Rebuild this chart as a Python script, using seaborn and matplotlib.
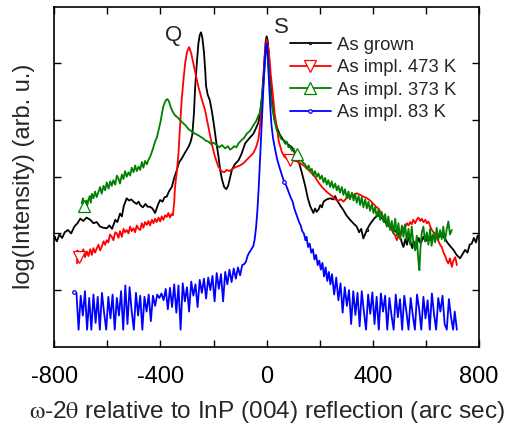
import numpy as np
import pandas as pd
import matplotlib
matplotlib.use("Agg")
import matplotlib.pyplot as plt
import seaborn as sns

# Data (x in arc sec, y in log units)
grown = [(-800, 1.94), (-790, 1.86), (-780, 1.98), (-770, 1.92), (-760, 2.02), (-748, 2.06), (-736, 2.00),
         (-724, 2.12), (-712, 2.18), (-702, 2.26), (-690, 2.22), (-678, 2.28), (-664, 2.24), (-652, 2.18),
         (-640, 2.20), (-627, 2.12), (-615, 2.10), (-602, 2.09), (-592, 2.14), (-582, 2.08), (-570, 2.24),
         (-562, 2.20), (-552, 2.35), (-545, 2.30), (-538, 2.48), (-527, 2.62), (-518, 2.58), (-510, 2.60),
         (-501, 2.56), (-490, 2.52), (-482, 2.56), (-476, 2.50), (-466, 2.46), (-456, 2.52), (-448, 2.47),
         (-439, 2.47), (-430, 2.44), (-420, 2.36), (-414, 2.44), (-408, 2.52), (-401, 2.59), (-392, 2.56),
         (-384, 2.64), (-376, 2.65), (-368, 2.74), (-357, 2.82), (-348, 2.98), (-338, 3.12), (-330, 3.25),
         (-320, 3.32), (-308, 3.42), (-294, 3.53), (-286, 3.62), (-280, 3.74), (-274, 4.10), (-269, 4.59),
         (-263, 5.00), (-257, 5.35), (-252, 5.50), (-247, 5.55), (-242, 5.45), (-236, 5.20), (-231, 4.85),
         (-228, 4.60), (-222, 4.45), (-214, 4.35), (-206, 4.15), (-198, 3.90), (-190, 3.62), (-182, 3.38),
         (-175, 3.12), (-168, 2.95), (-160, 2.82), (-152, 2.78), (-145, 2.84), (-138, 2.98), (-131, 3.12),
         (-120, 3.22), (-106, 3.29), (-95, 3.40), (-81, 3.59), (-65, 3.68), (-50, 3.76), (-40, 3.86),
         (-31, 3.96), (-24, 4.15), (-18, 4.40), (-12, 4.80), (-8, 5.10), (-4, 5.38), (0, 5.48), (4, 5.40),
         (8, 5.18), (13, 4.80), (19, 4.38), (28, 4.05), (38, 3.88), (50, 3.74), (63, 3.65), (78, 3.58),
         (95, 3.52), (108, 3.40), (120, 3.28), (132, 3.08), (145, 2.84), (155, 2.62), (164, 2.48),
         (170, 2.42), (176, 2.36), (182, 2.44), (188, 2.38), (195, 2.42), (202, 2.50), (208, 2.46),
         (214, 2.56), (226, 2.60), (239, 2.62), (250, 2.60), (258, 2.66), (264, 2.59), (276, 2.50),
         (289, 2.41), (300, 2.32), (314, 2.24), (326, 2.18), (339, 2.12), (348, 2.02), (356, 2.08),
         (364, 1.91), (370, 1.98), (377, 2.06), (386, 2.14), (396, 2.21), (408, 2.28), (421, 2.32),
         (430, 2.28), (440, 2.24), (452, 2.16), (462, 2.12), (471, 2.09), (484, 2.04), (496, 2.00),
         (505, 1.90), (510, 1.82), (515, 1.76), (522, 1.90), (528, 1.80), (534, 1.92), (540, 1.88),
         (548, 1.74), (554, 1.86), (560, 1.72), (565, 1.80), (572, 1.92), (580, 1.82), (590, 1.94),
         (598, 1.86), (606, 1.92), (615, 1.88), (625, 1.96), (632, 1.90), (640, 2.00), (650, 1.94),
         (660, 1.98), (671, 1.91), (680, 1.84), (690, 1.78), (703, 1.71), (715, 1.62), (728, 1.56),
         (738, 1.64), (747, 1.71), (756, 1.66), (764, 1.80), (772, 1.82), (780, 1.92), (788, 1.84),
         (794, 1.96), (800, 1.94)]

impl_473 = [(-714, 1.47), (-712, 1.70), (-708, 1.58), (-704, 1.66), (-700, 1.52), (-696, 1.62), (-690, 1.72),
            (-684, 1.58), (-677, 1.68), (-671, 1.60), (-664, 1.72), (-658, 1.62), (-652, 1.74), (-646, 1.66),
            (-639, 1.74), (-633, 1.80), (-627, 1.70), (-621, 1.76), (-614, 1.86), (-608, 1.80), (-602, 1.88),
            (-596, 1.84), (-590, 1.98), (-583, 1.94), (-577, 1.88), (-570, 2.02), (-564, 2.00), (-558, 1.92),
            (-552, 2.04), (-545, 1.94), (-539, 2.08), (-533, 2.02), (-527, 2.06), (-520, 2.00), (-514, 2.12),
            (-508, 2.04), (-501, 2.09), (-495, 2.02), (-489, 2.14), (-482, 2.08), (-476, 2.06), (-470, 2.18),
            (-464, 2.10), (-458, 2.20), (-451, 2.15), (-445, 2.22), (-439, 2.14), (-432, 2.24), (-426, 2.18),
            (-420, 2.26), (-414, 2.20), (-407, 2.28), (-401, 2.21), (-395, 2.30), (-389, 2.24), (-382, 2.32),
            (-376, 2.29), (-370, 2.36), (-364, 2.28), (-358, 2.34), (-353, 2.32), (-348, 2.55), (-345, 2.82),
            (-338, 3.10), (-332, 3.41), (-326, 3.90), (-320, 4.35), (-313, 4.72), (-307, 5.00), (-300, 5.20),
            (-292, 5.29), (-284, 5.18), (-276, 5.00), (-266, 4.78), (-257, 4.59), (-245, 4.38), (-232, 4.18),
            (-220, 3.90), (-207, 3.59), (-195, 3.36), (-182, 3.18), (-170, 3.10), (-160, 3.08), (-150, 3.12),
            (-140, 3.10), (-125, 3.15), (-112, 3.18), (-100, 3.20), (-87, 3.24), (-75, 3.30), (-62, 3.36),
            (-50, 3.42), (-40, 3.52), (-31, 3.66), (-24, 3.95), (-18, 4.28), (-12, 4.70), (-8, 5.06),
            (-4, 5.32), (0, 5.42), (5, 5.32), (10, 5.12), (16, 4.78), (23, 4.47), (30, 4.12), (38, 3.88),
            (46, 3.62), (57, 3.44), (66, 3.36), (76, 3.32), (89, 3.30), (101, 3.29), (114, 3.27), (126, 3.24),
            (139, 3.20), (151, 3.15), (166, 3.08), (182, 3.00), (195, 2.90), (208, 2.82), (220, 2.76),
            (232, 2.71), (246, 2.66), (258, 2.60), (270, 2.58), (280, 2.60), (289, 2.56), (300, 2.62),
            (314, 2.65), (327, 2.68), (339, 2.71), (352, 2.68), (364, 2.65), (378, 2.62), (390, 2.58),
            (402, 2.52), (414, 2.46), (421, 2.44), (433, 2.34), (446, 2.24), (458, 2.16), (471, 2.06),
            (478, 2.00), (484, 1.96), (490, 1.88), (496, 1.96), (502, 1.92), (509, 2.06), (515, 2.10),
            (522, 2.12), (528, 2.18), (534, 2.14), (540, 2.20), (546, 2.16), (552, 2.24), (559, 2.18),
            (565, 2.24), (571, 2.28), (578, 2.22), (584, 2.26), (590, 2.20), (597, 2.24), (603, 2.18),
            (609, 2.21), (616, 2.12), (622, 2.06), (628, 2.02), (634, 2.00), (640, 1.92), (647, 1.86),
            (653, 1.80), (659, 1.76), (666, 1.66), (672, 1.60), (678, 1.52), (684, 1.47), (690, 1.56),
            (697, 1.41), (703, 1.52), (710, 1.58), (716, 1.44)]

impl_373 = [(-696, 2.53), (-692, 2.62), (-688, 2.48), (-683, 2.41), (-679, 2.58), (-675, 2.50), (-671, 2.59),
            (-666, 2.66), (-662, 2.54), (-658, 2.70), (-652, 2.62), (-646, 2.74), (-640, 2.64), (-633, 2.74),
            (-627, 2.82), (-621, 2.70), (-614, 2.84), (-608, 2.76), (-602, 2.90), (-595, 2.79), (-589, 2.92),
            (-583, 2.84), (-577, 2.94), (-570, 2.86), (-564, 3.02), (-558, 2.97), (-552, 2.88), (-545, 3.04),
            (-539, 2.96), (-533, 3.10), (-527, 3.00), (-520, 3.08), (-514, 3.02), (-508, 3.16), (-501, 3.08),
            (-495, 3.20), (-489, 3.10), (-482, 3.18), (-476, 3.12), (-470, 3.26), (-464, 3.16), (-458, 3.28),
            (-451, 3.22), (-445, 3.30), (-439, 3.35), (-432, 3.44), (-426, 3.53), (-420, 3.62), (-413, 3.70),
            (-407, 3.82), (-400, 3.96), (-394, 4.12), (-389, 4.24), (-383, 4.32), (-378, 4.36), (-373, 4.37),
            (-367, 4.32), (-362, 4.24), (-357, 4.18), (-350, 4.12), (-344, 4.08), (-338, 4.06), (-330, 4.02),
            (-322, 3.98), (-313, 3.94), (-304, 3.90), (-294, 3.84), (-282, 3.80), (-270, 3.76), (-260, 3.74),
            (-250, 3.71), (-240, 3.68), (-230, 3.64), (-219, 3.62), (-210, 3.58), (-200, 3.60), (-188, 3.56),
            (-178, 3.52), (-168, 3.56), (-156, 3.50), (-146, 3.54), (-138, 3.48), (-131, 3.50), (-122, 3.54),
            (-114, 3.52), (-106, 3.59), (-96, 3.64), (-86, 3.68), (-75, 3.76), (-65, 3.80), (-56, 3.86),
            (-50, 3.91), (-40, 3.98), (-31, 4.08), (-25, 4.14), (-18, 4.38), (-12, 4.65), (-7, 4.98),
            (-3, 5.24), (0, 5.28), (4, 5.16), (7, 4.94), (12, 4.60), (19, 4.29), (28, 4.02), (38, 3.82),
            (48, 3.74), (56, 3.66), (63, 3.65), (70, 3.58), (76, 3.62), (82, 3.52), (89, 3.53), (95, 3.46),
            (101, 3.50), (108, 3.42), (114, 3.41), (120, 3.36), (126, 3.30), (132, 3.28), (139, 3.24),
            (145, 3.22), (151, 3.14), (158, 3.20), (164, 3.10), (170, 3.14), (176, 3.02), (182, 3.10),
            (189, 3.00), (195, 3.06), (201, 2.96), (208, 3.02), (214, 2.90), (220, 2.98), (226, 2.86),
            (232, 2.94), (239, 2.82), (245, 2.92), (251, 2.80), (258, 2.88), (264, 2.76), (270, 2.84),
            (276, 2.72), (283, 2.82), (289, 2.68), (295, 2.78), (302, 2.62), (308, 2.74), (314, 2.60),
            (321, 2.72), (327, 2.58), (333, 2.70), (339, 2.54), (346, 2.66), (352, 2.50), (358, 2.64),
            (364, 2.46), (371, 2.60), (377, 2.44), (383, 2.56), (389, 2.40), (396, 2.52), (402, 2.36),
            (408, 2.46), (414, 2.30), (421, 2.42), (427, 2.24), (433, 2.38), (440, 2.20), (446, 2.34),
            (452, 2.12), (458, 2.30), (465, 2.06), (471, 2.22), (477, 2.00), (484, 2.26), (490, 1.96),
            (496, 2.18), (502, 1.90), (509, 2.14), (515, 1.94), (521, 2.16), (527, 1.88), (534, 2.08),
            (540, 1.80), (546, 2.12), (552, 1.84), (559, 1.70), (565, 1.96), (571, 1.52), (575, 1.35),
            (579, 1.74), (584, 2.02), (590, 2.12), (596, 1.86), (603, 2.02), (609, 1.80), (615, 2.08),
            (621, 1.78), (628, 2.00), (634, 1.84), (640, 2.10), (646, 1.88), (653, 2.06), (659, 1.90),
            (665, 2.12), (671, 1.86), (678, 2.08), (684, 2.21), (690, 1.98), (697, 2.06)]

impl_83 = [(-727, 0.97), (-716, 0.95), (-708, 0.30), (-700, 0.90), (-692, 0.55), (-684, 0.98), (-676, 0.30),
           (-668, 0.86), (-660, 0.30), (-652, 0.92), (-644, 0.42), (-636, 0.88), (-628, 0.30), (-620, 0.95),
           (-612, 0.60), (-604, 0.30), (-596, 0.88), (-588, 0.50), (-580, 0.92), (-572, 0.30), (-564, 0.86),
           (-556, 0.55), (-548, 0.98), (-540, 0.30), (-532, 1.08), (-524, 0.40), (-516, 1.05), (-508, 0.62),
           (-500, 0.30), (-492, 0.95), (-484, 0.55), (-476, 0.90), (-468, 0.30), (-460, 0.88), (-452, 0.62),
           (-444, 0.92), (-436, 0.45), (-428, 0.90), (-420, 0.72), (-412, 0.92), (-404, 0.86), (-396, 0.94),
           (-388, 0.82), (-380, 1.02), (-372, 0.66), (-364, 1.04), (-356, 0.70), (-348, 1.10), (-340, 0.60),
           (-332, 1.08), (-324, 0.30), (-316, 1.12), (-308, 0.80), (-300, 1.05), (-292, 0.62), (-284, 1.15),
           (-276, 0.90), (-268, 1.10), (-260, 0.70), (-252, 1.18), (-244, 0.95), (-236, 1.20), (-228, 0.85),
           (-220, 1.22), (-212, 1.00), (-204, 1.25), (-196, 0.80), (-188, 1.30), (-180, 1.02), (-172, 1.28),
           (-164, 0.80), (-156, 1.32), (-148, 1.10), (-140, 1.36), (-132, 1.14), (-124, 1.38), (-116, 1.20),
           (-108, 1.40), (-100, 1.26), (-92, 1.44), (-84, 1.46), (-78, 1.50), (-72, 1.60), (-66, 1.66),
           (-60, 1.70), (-55, 1.74), (-50, 1.78), (-45, 1.90), (-40, 2.10), (-35, 2.40), (-30, 2.80),
           (-26, 3.20), (-22, 3.60), (-18, 4.00), (-14, 4.40), (-10, 4.80), (-6, 5.10), (-3, 5.28), (0, 5.35),
           (3, 5.22), (6, 4.95), (10, 4.55), (14, 4.20), (18, 3.92), (24, 3.68), (32, 3.48), (40, 3.30),
           (50, 3.14), (58, 3.02), (66, 2.91), (74, 2.84), (82, 2.74), (90, 2.64), (98, 2.56), (104, 2.44),
           (110, 2.36), (116, 2.28), (122, 2.20), (128, 2.14), (134, 2.04), (140, 2.00), (146, 1.88),
           (150, 1.94), (156, 1.76), (162, 1.82), (168, 1.66), (174, 1.72), (180, 1.54), (186, 1.62),
           (192, 1.44), (198, 1.52), (204, 1.36), (210, 1.48), (216, 1.24), (222, 1.40), (228, 1.16),
           (234, 1.32), (240, 1.10), (246, 1.28), (254, 0.92), (262, 1.22), (270, 0.82), (278, 1.12),
           (286, 0.60), (294, 1.05), (302, 0.72), (310, 1.00), (318, 0.40), (326, 0.98), (334, 0.56),
           (342, 0.95), (350, 0.36), (358, 0.98), (366, 0.62), (374, 0.30), (382, 0.92), (390, 0.58),
           (398, 0.96), (406, 0.40), (414, 0.88), (422, 0.30), (430, 0.94), (438, 0.62), (446, 0.90),
           (454, 0.30), (462, 0.86), (470, 0.55), (478, 0.30), (486, 0.92), (494, 0.52), (502, 0.84),
           (510, 0.30), (518, 0.90), (526, 0.62), (534, 0.30), (542, 0.86), (550, 0.56), (558, 0.30),
           (566, 0.92), (574, 0.66), (582, 0.30), (590, 0.88), (598, 0.50), (606, 0.82), (614, 0.30),
           (622, 0.94), (630, 0.58), (638, 0.30), (646, 0.86), (654, 0.62), (662, 0.90), (670, 0.40),
           (678, 0.30), (686, 0.84), (694, 0.52), (702, 0.30), (708, 0.62), (716, 0.30)]

labels = ['As grown', 'As impl. 473 K', 'As impl. 373 K', 'As impl. 83 K']
colors = ['black', 'red', 'green', 'blue']
markers = ['.', 'v', '^', 'o']
marker_sizes = [3, 8, 8, 2.5]
# x positions where the sparse symbols sit on each curve
marker_x = [[-800, 377], [-706, 89], [-687, 114], [-727, 66]]

sns.set_theme(style="ticks")
plt.rcParams['font.family'] = ['Liberation Sans', 'DejaVu Sans']
plt.rcParams['mathtext.fontset'] = 'stix'
plt.rcParams['axes.unicode_minus'] = False

fig, ax = plt.subplots(figsize=(5.06, 4.28), dpi=100)
fig.subplots_adjust(left=0.107, right=0.947, top=0.984, bottom=0.19)

for pts, lab, col, mk, ms, mx in zip([grown, impl_473, impl_373, impl_83], labels, colors, markers,
                                     marker_sizes, marker_x):
    df = pd.DataFrame(pts, columns=['x', 'y'])
    idx = [int(np.argmin(np.abs(df['x'].values - v))) for v in mx]
    sns.lineplot(data=df, x='x', y='y', ax=ax, color=col, lw=1.3, sort=False, estimator=None,
                 label=lab, marker=mk, markersize=ms, markevery=idx, markerfacecolor='white',
                 markeredgecolor=col, markeredgewidth=0.9)

ax.set_xlim(-800, 800)
ax.set_ylim(0, 6)
ax.set_xticks([-800, -400, 0, 400, 800])
ax.set_xticks([-600, -200, 200, 600], minor=True)
ax.set_yticks([1, 2, 3, 4, 5])
ax.set_yticklabels([])
ax.tick_params(axis='both', which='both', direction='in', top=True, right=True, length=5, width=1,
               colors='black')
ax.tick_params(axis='x', labelsize=17, pad=14)
for s in ax.spines.values():
    s.set_linewidth(1.2)
    s.set_color('black')

ax.set_xlabel(r'$\mathrm{\omega}$-2$\mathrm{\theta}$ relative to InP (004) reflection (arc sec)',
              fontsize=17.6, labelpad=8)
ax.set_ylabel('log(Intensity) (arb. u.)', fontsize=17, labelpad=10)

ax.text(-352, 5.5, 'Q', fontsize=16, ha='center', va='center')
ax.text(55, 5.64, 'S', fontsize=16, ha='center', va='center')

leg = ax.legend(loc='upper left', bbox_to_anchor=(0.555, 0.912), frameon=False, fontsize=13.3,
                borderpad=0, handlelength=2.2, handletextpad=0.35, labelspacing=0.3, borderaxespad=0,
                numpoints=1)

plt.savefig('out.png', dpi=100)
